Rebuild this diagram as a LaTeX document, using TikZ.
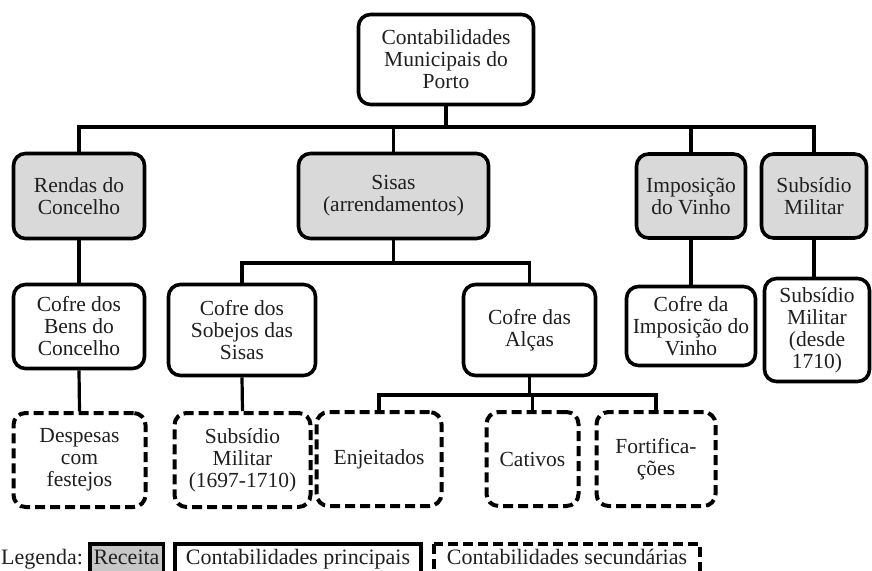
\documentclass[tikz,border=0pt]{standalone}
\usepackage{fontspec}
\setmainfont{Liberation Serif}
\begin{document}
\begin{tikzpicture}[x=1pt,y=-1pt,
  box/.style={draw=black, line width=3.6pt, rounded corners=12pt, align=center,
    font=\fontsize{21.5}{22}\selectfont, inner sep=2pt, text=black!88},
  rec/.style={box, fill=black!15},
  prin/.style={box, fill=white},
  sec/.style={box, fill=white, line width=4pt, dash pattern=on 10pt off 5pt},
  conn/.style={line width=3.2pt},
  legtext/.style={font=\fontsize{22}{22}\selectfont, text=black!88, inner sep=0pt},
]
\useasboundingbox (0,0) rectangle (872,570);

% level 1
\node[prin, minimum width=175pt, minimum height=90pt] (root) at (446,59.5) {Contabilidades\\Municipais do\\Porto};

% level 2
\node[rec, minimum width=131pt, minimum height=85pt] (rendas) at (79,196) {Rendas do\\Concelho};
\node[rec, minimum width=190pt, minimum height=85pt] (sisas) at (393.5,196) {Sisas\\(arrendamentos)};
\node[rec, minimum width=109pt, minimum height=84pt] (impos) at (691,196) {Imposição\\do Vinho};
\node[rec, minimum width=105pt, minimum height=84pt] (subs) at (814,196) {Subsídio\\Militar};

% level 3
\node[prin, minimum width=131pt, minimum height=84pt] (bens) at (79,326.5) {Cofre dos\\Bens do\\Concelho};
\node[prin, minimum width=147pt, minimum height=91pt] (sobejos) at (242,330) {Cofre dos\\Sobejos das\\Sisas};
\node[prin, minimum width=132pt, minimum height=91pt] (alcas) at (529.5,330) {Cofre das\\Alças};
\node[prin, minimum width=129pt, minimum height=79pt] (cimp) at (691,326) {Cofre da\\Imposição do\\Vinho};
\node[prin, minimum width=105pt, minimum height=103pt] (sm) at (817,330) {Subsídio\\Militar\\(desde\\1710)};

% level 4
\node[sec, minimum width=132pt, minimum height=94pt] (desp) at (79.5,460) {Despesas\\com\\festejos};
\node[sec, minimum width=136pt, minimum height=94pt] (sm2) at (242.5,460) {Subsídio\\Militar\\(1697-1710)};
\node[sec, minimum width=125pt, minimum height=94pt] (enj) at (379,459) {Enjeitados};
\node[sec, minimum width=92pt, minimum height=94pt] (cat) at (532.5,459) {Cativos};
\node[sec, minimum width=119pt, minimum height=94pt] (fort) at (656,459) {Fortifica-\\ções};

% connectors
\coordinate (b1) at (0,127);
\coordinate (b2) at (0,263);
\coordinate (b3) at (0,395);
\draw[conn] (root.south) -- (root.south |- b1);
\draw[conn] (rendas.north) |- (subs.north |- b1) -- (subs.north);
\draw[conn] (sisas.north) -- (sisas.north |- b1);
\draw[conn] (impos.north) -- (impos.north |- b1);

\draw[conn] (rendas.south) -- (bens.north);
\draw[conn] (sisas.south) -- (sisas.south |- b2);
\draw[conn] (sobejos.north) |- (alcas.north |- b2) -- (alcas.north);
\draw[conn] (impos.south) -- (cimp.north);
\draw[conn] (subs.south) -- (subs.south |- sm.north);

\draw[conn] (bens.south) -- (desp.north);
\draw[conn] (sobejos.south) -- (sm2.north);
\draw[conn] (alcas.south) -- (alcas.south |- b3);
\draw[conn] (enj.north) |- (fort.north |- b3) -- (fort.north);
\draw[conn] (cat.north) -- (cat.north |- b3);

% legend
\node[legtext, anchor=base west] (leg) at (1,564) {Legenda:};
\draw[line width=3.8pt, fill=black!22] (90,544) rectangle (163.5,590);
\node[legtext, anchor=base] (lrec) at (126.5,564) {Receita};
\draw[line width=3.8pt, fill=white] (175,544) rectangle (421,590);
\node[legtext, anchor=base] (lprin) at (298,564) {Contabilidades principais};
\draw[line width=3.8pt, dash pattern=on 10pt off 5pt] (434,544) rectangle (700,590);
\node[legtext, anchor=base] (lsec) at (567,564) {Contabilidades secundárias};
\end{tikzpicture}
\end{document}
